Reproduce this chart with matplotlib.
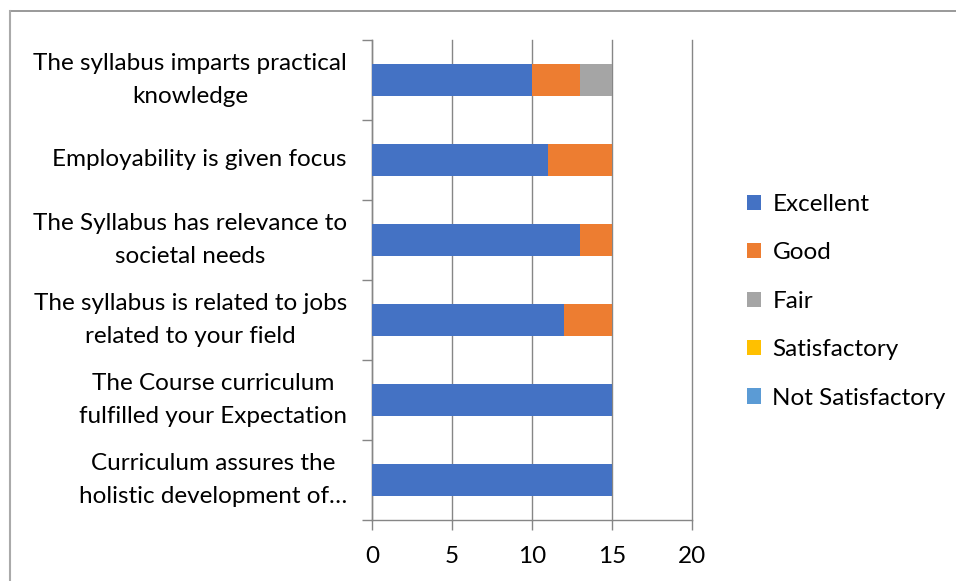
import matplotlib
matplotlib.use("Agg")
import matplotlib.pyplot as plt
from matplotlib.lines import Line2D
import numpy as np

plt.rcParams['font.family'] = ['Lato', 'DejaVu Sans']

categories = [
    "The syllabus imparts practical\nknowledge",
    "Employability is given focus",
    "The Syllabus has relevance to\nsocietal needs",
    "The syllabus is related to jobs\nrelated to your field",
    "The Course curriculum\nfulfilled your Expectation",
    "Curriculum assures the\nholistic development of\u2026",
]
series_names = ["Excellent", "Good", "Fair", "Satisfactory", "Not Satisfactory"]
excellent = [10, 11, 13, 12, 15, 15]
good = [3, 4, 2, 3, 0, 0]
fair = [2, 0, 0, 0, 0, 0]
satisfactory = [0, 0, 0, 0, 0, 0]
not_satisfactory = [0, 0, 0, 0, 0, 0]
colors = ["#4472C4", "#ED7D31", "#A5A5A5", "#FFC000", "#5B9BD5"]
xticks = [0, 5, 10, 15, 20]

W, H = 956, 581
fig = plt.figure(figsize=(W/100, H/100), dpi=100)
ax = fig.add_axes([372/W, 1-520/H, 320/W, 480/H])

y = np.arange(len(categories))
left = np.zeros(len(categories))
for name, vals, c in zip(series_names,
                         [excellent, good, fair, satisfactory, not_satisfactory],
                         colors):
    vals = np.array(vals, dtype=float)
    ax.barh(y, vals, left=left, height=0.4, color=c, label=name, zorder=3)
    left += vals

ax.set_xlim(0, 20)
ax.set_ylim(len(categories)-0.5, -0.5)
ax.set_xticks(xticks)
ax.set_xticklabels([str(t) for t in xticks], fontsize=17.5)
ax.set_yticks(y)
ax.set_yticklabels(categories, fontsize=17.5, ha='right', multialignment='center',
                   linespacing=1.7, va='center')
ax.set_yticks(np.arange(-0.5, len(categories), 1), minor=True)
ax.tick_params(axis='y', which='major', length=0, pad=18)
ax.tick_params(axis='y', which='minor', length=7, color='#868686', width=1)
ax.tick_params(axis='x', length=7, color='#868686', width=1, pad=12)
ax.grid(axis='x', color='#868686', linewidth=1, zorder=0)
for gl in ax.get_xgridlines():
    gl.set_clip_on(False)
for s in ['top', 'right']:
    ax.spines[s].set_visible(False)
for s in ['left', 'bottom']:
    ax.spines[s].set_color('#868686')
    ax.spines[s].set_linewidth(1)

leg = fig.legend(loc='upper left', bbox_to_anchor=(725/W, 1-172/H), frameon=False,
                 fontsize=17.5, handlelength=0.6, handleheight=0.6,
                 handletextpad=0.45, labelspacing=1.13)

# figure border
fig.add_artist(Line2D([10/W, 1], [1-11/H, 1-11/H], color='#888888', lw=1.2))
fig.add_artist(Line2D([10/W, 10/W], [0, 1-11/H], color='#AAAAAA', lw=1.5))

fig.savefig("out.png", dpi=100)
